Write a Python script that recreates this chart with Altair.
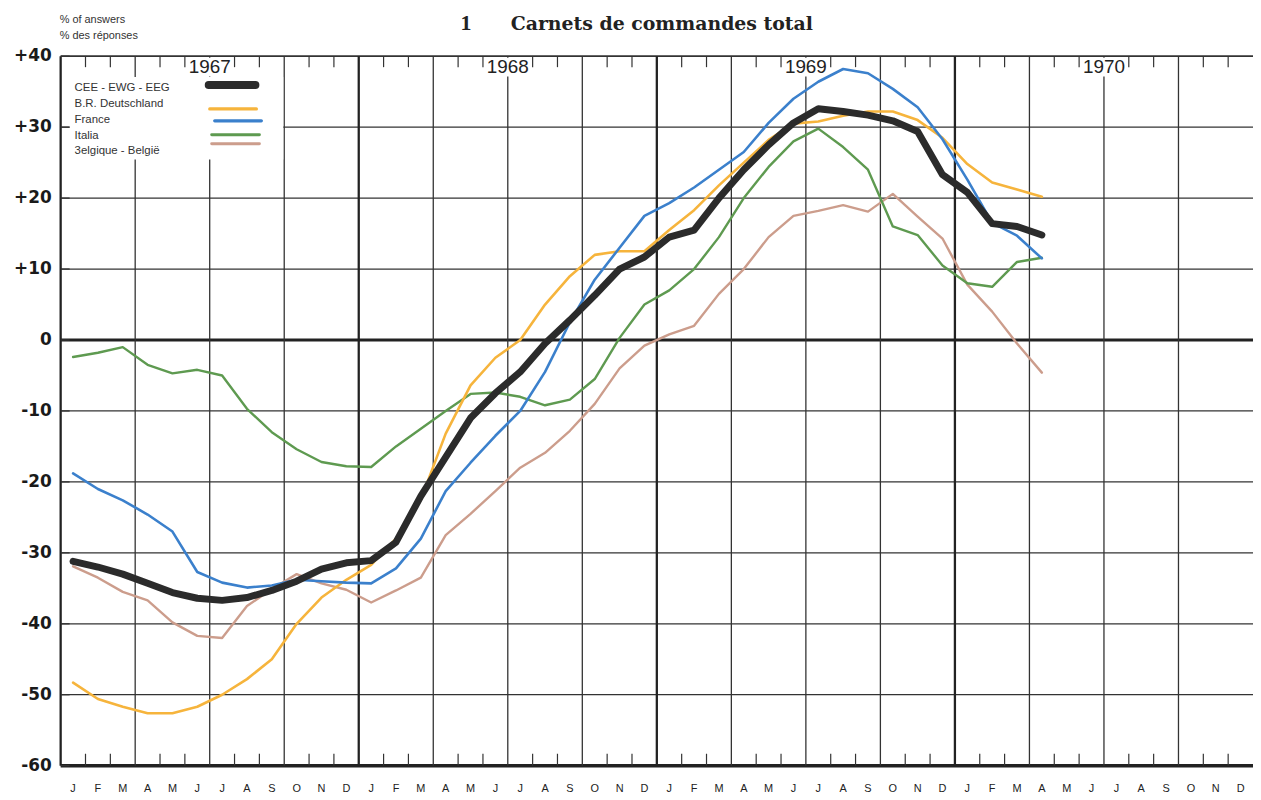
import altair as alt
import pandas as pd

# ---------------- data ----------------
month_letters = ["J", "F", "M", "A", "M", "J", "J", "A", "S", "O", "N", "D"] * 4
years = ["1967", "1968", "1969", "1970"]
y_values = [40, 30, 20, 10, 0, -10, -20, -30, -40, -50, -60]
y_labels = ["+40", "+30", "+20", "+10", "0", "-10", "-20", "-30", "-40", "-50", "-60"]

# monthly values Jan 1967 .. Apr 1970 (40 months)
cee = [-31.2, -32.0, -33.0, -34.3, -35.6, -36.4, -36.7, -36.3, -35.3, -34.0, -32.3, -31.4,
       -31.1, -28.5, -22.0, -16.5, -11.0, -7.5, -4.5, -0.5, 2.8, 6.3, 10.0, 11.7,
       14.5, 15.5, 20.0, 24.0, 27.5, 30.6, 32.6, 32.2, 31.7, 30.9, 29.4, 23.3,
       20.8, 16.4, 16.0, 14.8]
brd = [-48.3, -50.6, -51.7, -52.6, -52.6, -51.7, -50.0, -47.8, -45.0, -40.0, -36.3, -33.8,
       -31.7, -28.0, -22.5, -13.2, -6.4, -2.5, 0.0, 5.0, 9.0, 12.0, 12.5, 12.5,
       15.5, 18.3, 21.8, 25.0, 28.2, 30.5, 30.8, 31.6, 32.2, 32.2, 31.0, 28.5,
       24.8, 22.2, 21.2, 20.2]
france = [-18.8, -21.0, -22.6, -24.6, -27.0, -32.7, -34.2, -34.9, -34.6, -33.8, -34.0, -34.2,
          -34.3, -32.2, -28.0, -21.3, -17.3, -13.5, -10.0, -4.5, 2.5, 8.5, 13.0, 17.5,
          19.3, 21.5, 24.0, 26.5, 30.6, 34.0, 36.4, 38.2, 37.6, 35.4, 32.8, 28.3,
          22.6, 16.5, 14.7, 11.5]
italia = [-2.4, -1.8, -1.0, -3.5, -4.7, -4.2, -5.0, -9.7, -13.0, -15.4, -17.2, -17.8,
          -17.9, -15.0, -12.5, -10.0, -7.6, -7.4, -8.0, -9.2, -8.4, -5.5, 0.3, 5.0,
          7.0, 10.0, 14.5, 20.0, 24.4, 28.0, 29.8, 27.2, 24.0, 16.0, 14.8, 10.5,
          8.0, 7.5, 11.0, 11.6]
belg = [-31.9, -33.5, -35.5, -36.7, -39.8, -41.7, -42.0, -37.5, -35.1, -33.0, -34.3, -35.2,
        -37.0, -35.3, -33.5, -27.5, -24.5, -21.3, -18.0, -15.9, -12.8, -9.0, -4.0, -0.8,
        0.8, 2.0, 6.5, 10.0, 14.5, 17.5, 18.2, 19.0, 18.1, 20.6, 17.4, 14.3,
        7.8, 4.0, -0.5, -4.6]

series_names = ["CEE - EWG - EEG", "B.R. Deutschland", "France", "Italia", "3elgique - België"]
series_values = [cee, brd, france, italia, belg]
series_colors = ["#2b2b2b", "#f6b43c", "#3b80cc", "#5e9a50", "#cc9d8c"]
series_widths = [7, 2.6, 2.6, 2.4, 2.4]

# ---------------- geometry ----------------
W, H = 1200, 714
xs = alt.Scale(domain=[0, 48], nice=False, zero=False)
ys = alt.Scale(domain=[-60, 40], nice=False, zero=False)
GRID = "#333333"

def X(f):
    return alt.X(f, type="quantitative", scale=xs, axis=None)

def Y(f):
    return alt.Y(f, type="quantitative", scale=ys, axis=None)

layers = []

# horizontal grid lines
hg = pd.DataFrame({"y": [v for v in y_values if v not in (0, -60, 40)]})
layers.append(alt.Chart(hg).mark_rule(color=GRID, strokeWidth=1.3).encode(
    y=Y("y"), x=alt.value(0), x2=alt.value(W)))
layers.append(alt.Chart(pd.DataFrame({"y": [40]})).mark_rule(color=GRID, strokeWidth=1.8).encode(
    y=Y("y"), x=alt.value(0), x2=alt.value(W)))
layers.append(alt.Chart(pd.DataFrame({"y": [0]})).mark_rule(color="#222222", strokeWidth=2.8).encode(
    y=Y("y"), x=alt.value(0), x2=alt.value(W)))
layers.append(alt.Chart(pd.DataFrame({"y": [-60]})).mark_rule(color="#222222", strokeWidth=3.6).encode(
    y=Y("y"), x=alt.value(0), x2=alt.value(W)))

# vertical grid lines
quarters = [m for m in range(3, 48, 3) if m % 12 != 0]
year_lines = [0, 12, 24, 36]
layers.append(alt.Chart(pd.DataFrame({"x": quarters})).mark_rule(color=GRID, strokeWidth=1.3).encode(
    x=X("x"), y=alt.value(0), y2=alt.value(H)))
layers.append(alt.Chart(pd.DataFrame({"x": year_lines})).mark_rule(color="#222222", strokeWidth=2.3).encode(
    x=X("x"), y=alt.value(0), y2=alt.value(H)))

# month ticks (top and bottom)
mt = pd.DataFrame({"x": [m for m in range(1, 48) if m % 3 != 0]})
layers.append(alt.Chart(mt).mark_rule(color=GRID, strokeWidth=1.2).encode(
    x=X("x"), y=alt.value(0), y2=alt.value(11)))
layers.append(alt.Chart(mt).mark_rule(color=GRID, strokeWidth=1.2).encode(
    x=X("x"), y=alt.value(H - 12), y2=alt.value(H)))

# year label boxes + labels
yr = pd.DataFrame({"x": [6 + 12 * i for i in range(4)], "t": years})
layers.append(alt.Chart(yr).mark_rect(color="white", width=44, height=19).encode(
    x=X("x"), y=alt.value(11)))
layers.append(alt.Chart(yr).mark_text(font="Liberation Sans", fontSize=19, color="#222222",
                                      baseline="middle", align="center").encode(
    x=X("x"), y=alt.value(11), text="t:N"))

# legend box
layers.append(alt.Chart(pd.DataFrame({"a": [0]})).mark_rect(color="white").encode(
    x=alt.value(9), x2=alt.value(224), y=alt.value(21), y2=alt.value(104)))

# short y ticks inside the frame
layers.append(alt.Chart(pd.DataFrame({"y": y_values})).mark_rule(color=GRID, strokeWidth=1.3).encode(
    y=Y("y"), x=alt.value(0), x2=alt.value(9)))

# y labels
yl = pd.DataFrame({"y": y_values, "t": y_labels})
layers.append(alt.Chart(yl).mark_text(font="DejaVu Sans", fontWeight="bold", fontSize=17,
                                      color="#1a1a1a", align="right", baseline="middle").encode(
    y=Y("y"), x=alt.value(-9), text="t:N"))

# month labels
ml = pd.DataFrame({"x": [i + 0.5 for i in range(48)], "t": month_letters})
layers.append(alt.Chart(ml).mark_text(font="Liberation Sans", fontSize=11, color="#222222",
                                      align="center", baseline="middle").encode(
    x=X("x"), y=alt.value(H + 24), text="t:N"))

# title and unit texts
layers.append(alt.Chart(pd.DataFrame({"t": ["1"]})).mark_text(
    font="Liberation Serif", fontWeight="bold", fontSize=22, color="#222222",
    align="center", baseline="alphabetic").encode(
    x=alt.value(408), y=alt.value(-26), text="t:N"))
layers.append(alt.Chart(pd.DataFrame({"t": ["Carnets de commandes total"]})).mark_text(
    font="DejaVu Serif", fontWeight="bold", fontSize=19, color="#222222",
    align="center", baseline="alphabetic").encode(
    x=alt.value(605), y=alt.value(-26), text="t:N"))
units = pd.DataFrame({"t": ["% of answers", "% des réponses"], "py": [-33, -17]})
layers.append(alt.Chart(units).mark_text(
    font="Liberation Sans", fontSize=11, color="#333333", align="left",
    baseline="alphabetic").encode(
    x=alt.value(-1), y=alt.Y("py:Q", scale=None, axis=None), text="t:N"))

# data lines (drawn back to front)
order = [4, 3, 1, 2, 0]
for i in order:
    df = pd.DataFrame({"x": [m + 0.5 for m in range(len(series_values[i]))],
                       "v": series_values[i]})
    layers.append(alt.Chart(df).mark_line(color=series_colors[i], strokeWidth=series_widths[i],
                                          strokeCap="round", strokeJoin="round").encode(
        x=X("x"), y=Y("v")))

# legend texts and samples
leg_text_y = [35, 51, 67, 83, 98]
leg_line = [(149, 196, 29), (150, 197, 53), (155, 202, 65), (152, 200, 79), (152, 200, 88)]
for i in range(5):
    layers.append(alt.Chart(pd.DataFrame({"t": [series_names[i]]})).mark_text(
        font="Liberation Sans", fontSize=11.5, color="#333333", align="left",
        baseline="alphabetic").encode(x=alt.value(14), y=alt.value(leg_text_y[i]), text="t:N"))
    x1, x2, yy = leg_line[i]
    layers.append(alt.Chart(pd.DataFrame({"t": [series_names[i]]})).mark_rule(
        color=series_colors[i], strokeWidth=series_widths[i] + (1 if i == 0 else 0.6),
        strokeCap="round").encode(x=alt.value(x1), x2=alt.value(x2), y=alt.value(yy)))

chart = alt.layer(*layers).properties(
    width=W, height=H,
    autosize=alt.AutoSizeParams(type="none"),
    padding={"left": 53, "top": 46, "right": 0, "bottom": 30},
    background="white",
).configure_view(stroke=None)

chart.save("out.html", embed_options={"renderer": "svg", "actions": False})
